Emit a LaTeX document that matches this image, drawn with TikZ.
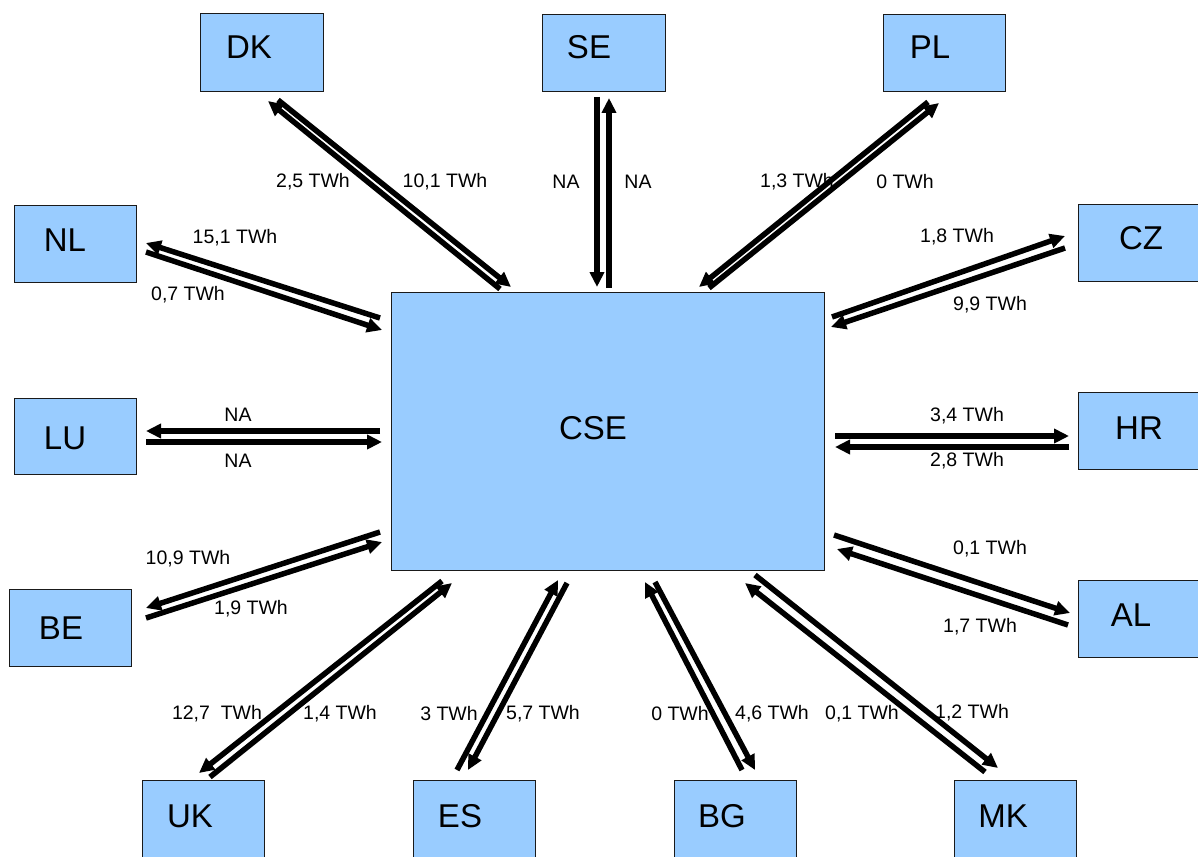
\documentclass[tikz,border=0pt]{standalone}
\usepackage{fontspec}
\setmainfont{Liberation Sans}
\usetikzlibrary{arrows.meta}
\definecolor{boxblue}{HTML}{99CCFF}
\definecolor{boxline}{HTML}{1A1A1A}
\tikzset{
  box/.style={draw=boxline, line width=1pt, fill=boxblue, anchor=north west, inner sep=0pt},
  boxtext/.style={font=\fontsize{33}{36}\selectfont, inner sep=0pt, anchor=center},
  flow/.style={line width=5.5pt, -{Triangle[length=15pt,width=14pt]}},
  val/.style={font=\fontsize{19.5}{21}\selectfont, inner sep=0pt, anchor=center}
}
\begin{document}
\begin{tikzpicture}[x=1pt,y=-1pt]
\useasboundingbox (0,0) rectangle (1198,856);
% boxes
\node[box, minimum width=433pt, minimum height=278pt] (cse) at (391,292) {};
\node[box, minimum width=123pt, minimum height=78pt] (dk) at (200,13) {};
\node[box, minimum width=123pt, minimum height=77pt] (se) at (542,14) {};
\node[box, minimum width=122pt, minimum height=77pt] (pl) at (883,14) {};
\node[box, minimum width=122pt, minimum height=77pt] (nl) at (14,205) {};
\node[box, minimum width=124pt, minimum height=77pt] (cz) at (1078,204) {};
\node[box, minimum width=122pt, minimum height=76pt] (lu) at (14,398) {};
\node[box, minimum width=124pt, minimum height=77pt] (hr) at (1078,392) {};
\node[box, minimum width=122pt, minimum height=77pt] (be) at (9,589) {};
\node[box, minimum width=124pt, minimum height=77pt] (al) at (1078,580) {};
\node[box, minimum width=122pt, minimum height=80pt] (uk) at (142,780) {};
\node[box, minimum width=122pt, minimum height=80pt] (es) at (413,780) {};
\node[box, minimum width=122pt, minimum height=80pt] (bg) at (674,780) {};
\node[box, minimum width=122pt, minimum height=80pt] (mk) at (954,780) {};
% box texts
\node[boxtext] (cset) at (593,428) {CSE};
\node[boxtext] (dkt) at (249,47) {DK};
\node[boxtext] (set) at (589,47) {SE};
\node[boxtext] (plt) at (930,47) {PL};
\node[boxtext] (nlt) at (65,240) {NL};
\node[boxtext] (czt) at (1141,238) {CZ};
\node[boxtext] (lut) at (65,438) {LU};
\node[boxtext] (hrt) at (1139,428) {HR};
\node[boxtext] (bet) at (61,628) {BE};
\node[boxtext] (alt) at (1131,615) {AL};
\node[boxtext] (ukt) at (190,816) {UK};
\node[boxtext] (est) at (460,816) {ES};
\node[boxtext] (bgt) at (722,816) {BG};
\node[boxtext] (mkt) at (1003,816) {MK};
% connector end points
\coordinate (dka1) at (500,289); \coordinate (dka2) at (268,101);
\coordinate (dkb1) at (278,100); \coordinate (dkb2) at (511,287);
\coordinate (sea1) at (597,97);  \coordinate (sea2) at (597,287);
\coordinate (seb1) at (609,288); \coordinate (seb2) at (609,98);
\coordinate (pla1) at (928,102); \coordinate (pla2) at (699,287);
\coordinate (plb1) at (709,288); \coordinate (plb2) at (939,103);
\coordinate (nla1) at (380,318); \coordinate (nla2) at (146,243);
\coordinate (nlb1) at (146,252); \coordinate (nlb2) at (382,330);
\coordinate (cza1) at (832,317); \coordinate (cza2) at (1065,236);
\coordinate (czb1) at (1065,248); \coordinate (czb2) at (831,327);
\coordinate (lua1) at (380,431); \coordinate (lua2) at (146,431);
\coordinate (lub1) at (146,442); \coordinate (lub2) at (382,442);
\coordinate (hra1) at (835,436); \coordinate (hra2) at (1069,436);
\coordinate (hrb1) at (1069,447); \coordinate (hrb2) at (835,447);
\coordinate (bea1) at (380,532); \coordinate (bea2) at (146,608);
\coordinate (beb1) at (146,618); \coordinate (beb2) at (382,542);
\coordinate (ala1) at (834,535); \coordinate (ala2) at (1070,613);
\coordinate (alb1) at (1068,625); \coordinate (alb2) at (837,549);
\coordinate (uka1) at (442,581); \coordinate (uka2) at (199,773);
\coordinate (ukb1) at (210,777); \coordinate (ukb2) at (452,583);
\coordinate (esa1) at (457,770); \coordinate (esa2) at (558,580);
\coordinate (esb1) at (567,583); \coordinate (esb2) at (468,770);
\coordinate (bga1) at (742,770); \coordinate (bga2) at (645,582);
\coordinate (bgb1) at (655,582); \coordinate (bgb2) at (755,770);
\coordinate (mka1) at (985,772); \coordinate (mka2) at (745,583);
\coordinate (mkb1) at (755,575); \coordinate (mkb2) at (998,768);
% connectors
\foreach \n in {dk,se,pl,nl,cz,lu,hr,be,al,uk,es,bg,mk}{
  \draw[flow] (\n a1) -- (\n a2);
  \draw[flow] (\n b1) -- (\n b2);
}
% values
\node[val] (v1) at (313,182) {2,5 TWh};
\node[val] (v2) at (445,182) {10,1 TWh};
\node[val] (v3) at (566,182) {NA};
\node[val] (v4) at (638,182) {NA};
\node[val] (v5) at (797,182) {1,3 TWh};
\node[val] (v6) at (905,182) {0 TWh};
\node[val] (v7) at (235,238) {15,1 TWh};
\node[val] (v8) at (188,295) {0,7 TWh};
\node[val] (v9) at (957,237) {1,8 TWh};
\node[val] (v10) at (990,305) {9,9 TWh};
\node[val] (v11) at (238,415) {NA};
\node[val] (v12) at (238,461) {NA};
\node[val] (v13) at (967,416) {3,4 TWh};
\node[val] (v14) at (967,461) {2,8 TWh};
\node[val] (v15) at (188,559) {10,9 TWh};
\node[val] (v16) at (251,609) {1,9 TWh};
\node[val] (v17) at (990,549) {0,1 TWh};
\node[val] (v18) at (980,627) {1,7 TWh};
\node[val] (v19) at (217,714) {12,7\ \ TWh};
\node[val] (v20) at (340,714) {1,4 TWh};
\node[val] (v21) at (449,714) {3 TWh};
\node[val] (v22) at (543,714) {5,7 TWh};
\node[val] (v23) at (680,714) {0 TWh};
\node[val] (v24) at (772,714) {4,6 TWh};
\node[val] (v25) at (862,714) {0,1 TWh};
\node[val] (v26) at (972,713) {1,2 TWh};
\end{tikzpicture}
\end{document}
